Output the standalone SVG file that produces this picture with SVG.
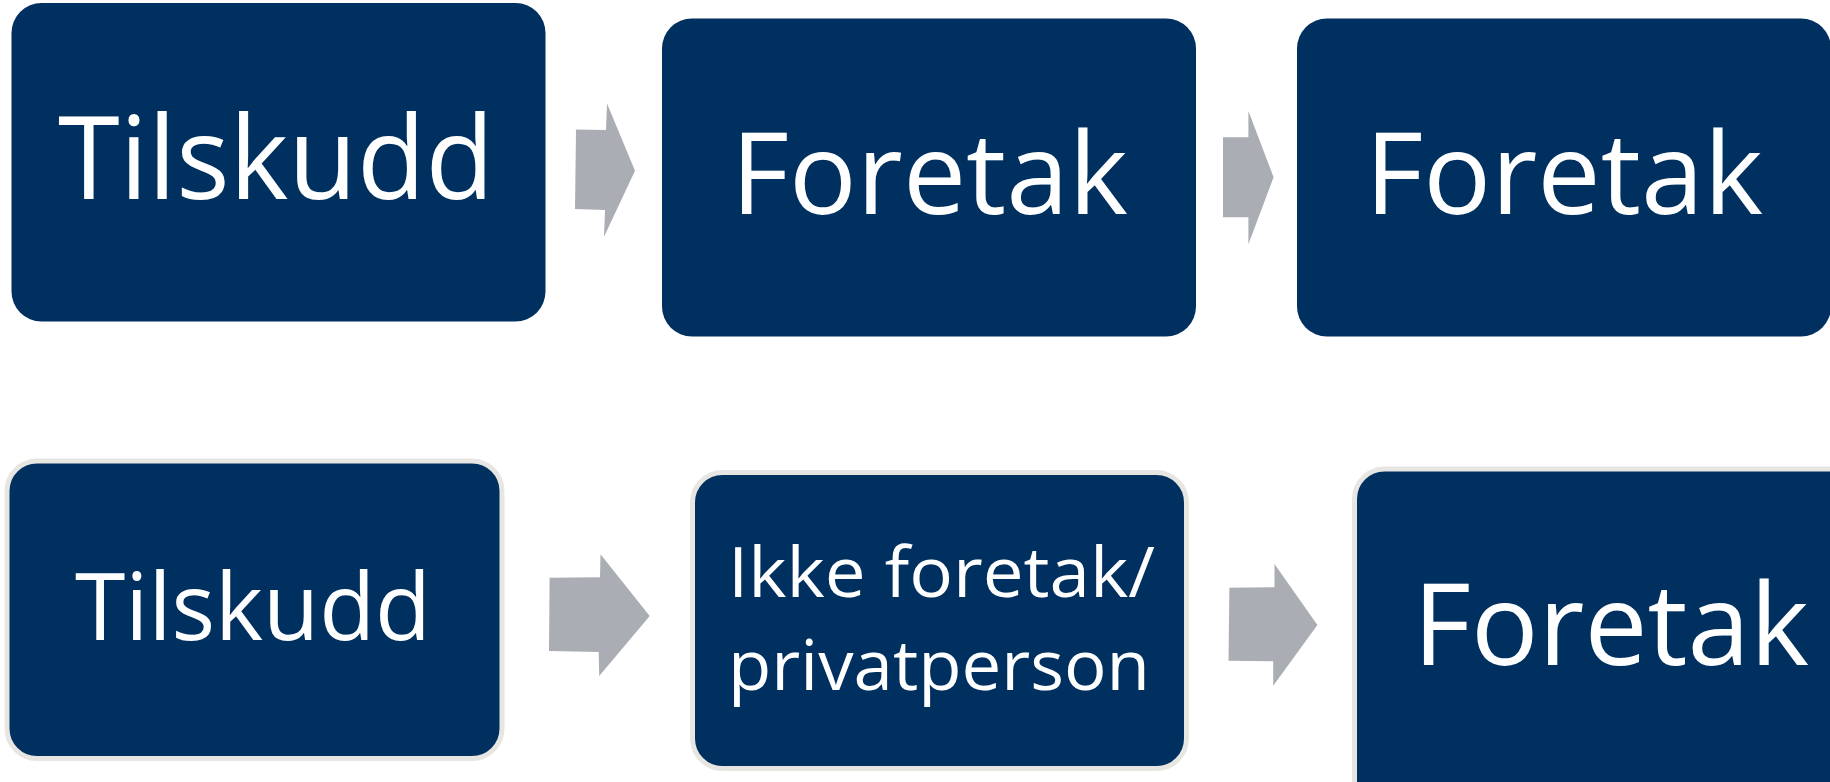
<svg xmlns="http://www.w3.org/2000/svg" width="1830" height="782" viewBox="0 0 1830 782">
<style>
.box{fill:#00305F}
.bbox{fill:#00305F;stroke:#E7E6E2;stroke-width:5}
.lbl{fill:#FFFFFF;font-family:"Open Sans","Noto Sans","Liberation Sans",sans-serif}
.arr{fill:#ABADB4}
</style>
<rect width="1830" height="782" fill="#FFFFFF"/>
<g id="connectors">
<polygon class="arr" points="576,129.5 606,130 607,103.5 635,170.7 604,236.7 605,210 575,209"/>
<polygon class="arr" points="1223,137.3 1248.4,137.3 1248.4,111 1273.6,177.3 1248.4,244.3 1248.4,217.3 1223,217.3"/>
<polygon class="arr" points="549.6,577.7 600,577.3 600.5,554.3 649.7,616 599.2,676 598.7,652 549,651"/>
<polygon class="arr" points="1229.4,587.7 1274.5,587.3 1274.5,564 1317.4,625 1273.2,685.7 1273.2,661.3 1228.5,660.7"/>
</g>
<g id="node-tilskudd-top">
<rect class="box" x="11.5" y="3" width="534" height="318.5" rx="30" ry="30"/>
<text class="lbl" x="58" y="199" font-size="115.5" textLength="436" lengthAdjust="spacingAndGlyphs">Tilskudd</text>
</g>
<g id="node-foretak-top-1">
<rect class="box" x="662" y="18.5" width="534" height="318" rx="30" ry="30"/>
<text class="lbl" x="731" y="214" font-size="114" textLength="397" lengthAdjust="spacingAndGlyphs">Foretak</text>
</g>
<g id="node-foretak-top-2">
<rect class="box" x="1297" y="18.5" width="534" height="318" rx="30" ry="30"/>
<text class="lbl" x="1365" y="214" font-size="114" textLength="398" lengthAdjust="spacingAndGlyphs">Foretak</text>
</g>
<g id="node-tilskudd-bottom">
<rect class="bbox" x="7" y="461" width="495" height="297.5" rx="30" ry="30"/>
<text class="lbl" x="75" y="640" font-size="94" textLength="356" lengthAdjust="spacingAndGlyphs">Tilskudd</text>
</g>
<g id="node-ikke-foretak">
<rect class="bbox" x="692.5" y="472.5" width="494" height="296" rx="30" ry="30"/>
<text class="lbl" font-size="68.6">
<tspan x="728" y="597.3" textLength="427" lengthAdjust="spacingAndGlyphs">Ikke foretak/</tspan>
<tspan x="728" y="690" textLength="422" lengthAdjust="spacingAndGlyphs">privatperson</tspan>
</text>
</g>
<g id="node-foretak-bottom">
<rect class="bbox" x="1354.5" y="469" width="530" height="400" rx="30" ry="30"/>
<text class="lbl" x="1413" y="665" font-size="113.5" textLength="396" lengthAdjust="spacingAndGlyphs">Foretak</text>
</g>
</svg>
